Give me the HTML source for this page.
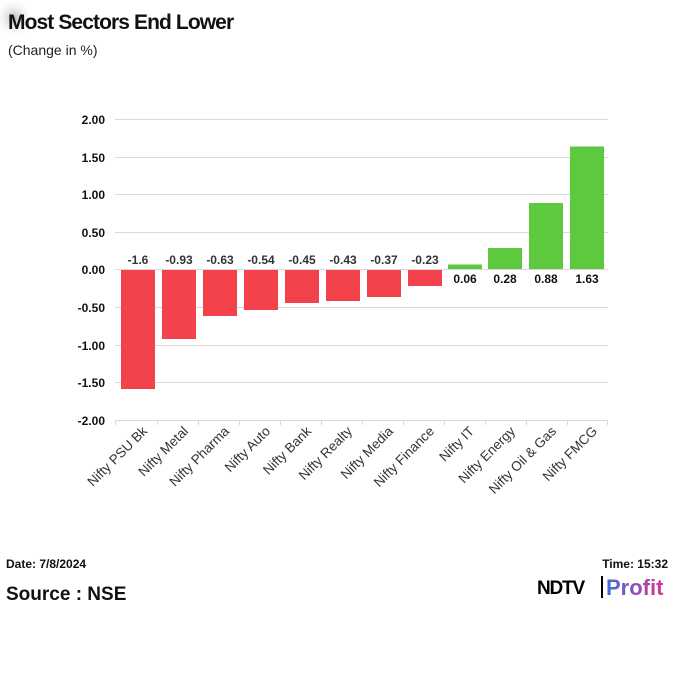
<!DOCTYPE html>
<html><head><meta charset="utf-8"><style>
body{margin:0;width:675px;height:675px;background:#fff;overflow:hidden;font-family:"Liberation Sans",Arial,sans-serif}
</style></head><body>
<svg width="675" height="675" viewBox="0 0 675 675" xmlns="http://www.w3.org/2000/svg">
<defs><radialGradient id="sh"><stop offset="0" stop-color="#bbb"/><stop offset="1" stop-color="#fff" stop-opacity="0"/></radialGradient></defs>
<circle cx="14" cy="18" r="20" fill="url(#sh)"/>
<text x="8" y="29" font-size="21" font-weight="bold" fill="#111" letter-spacing="-0.9">Most Sectors End Lower</text>
<text x="8" y="55" font-size="14" fill="#222">(Change in %)</text>
<g stroke="#d9d9d9" stroke-width="1">
<line x1="115" y1="119.5" x2="608" y2="119.5"/>
<line x1="115" y1="157.5" x2="608" y2="157.5"/>
<line x1="115" y1="194.5" x2="608" y2="194.5"/>
<line x1="115" y1="232.5" x2="608" y2="232.5"/>
<line x1="115" y1="307.5" x2="608" y2="307.5"/>
<line x1="115" y1="345.5" x2="608" y2="345.5"/>
<line x1="115" y1="382.5" x2="608" y2="382.5"/>
<line x1="115" y1="420.5" x2="608" y2="420.5"/>
</g>
<g font-size="12" font-weight="bold" fill="#111" text-anchor="end">
<text x="105" y="124">2.00</text><text x="105" y="162">1.50</text><text x="105" y="199">1.00</text><text x="105" y="237">0.50</text><text x="105" y="274">0.00</text><text x="105" y="312">-0.50</text><text x="105" y="350">-1.00</text><text x="105" y="387">-1.50</text><text x="105" y="425">-2.00</text>
</g>
<g fill="#f4424c">
<rect x="121" y="269" width="34" height="120"/>
<rect x="162" y="269" width="34" height="70"/>
<rect x="203" y="269" width="34" height="47"/>
<rect x="244" y="269" width="34" height="41"/>
<rect x="285" y="269" width="34" height="34"/>
<rect x="326" y="269" width="34" height="32"/>
<rect x="367" y="269" width="34" height="28"/>
<rect x="408" y="269" width="34" height="17"/>
</g>
<g fill="#5dc93f">
<rect x="448" y="264.5" width="34" height="4.5"/>
<rect x="488" y="248" width="34" height="21"/>
<rect x="529" y="203" width="34" height="66"/>
<rect x="570" y="146.5" width="34" height="122.5"/>
</g>
<line x1="115" y1="269.5" x2="608" y2="269.5" stroke="#d9d9d9"/>
<g stroke="#d9d9d9"><line x1="115.5" y1="420" x2="115.5" y2="425"/><line x1="157.5" y1="420" x2="157.5" y2="425"/><line x1="198.5" y1="420" x2="198.5" y2="425"/><line x1="239.5" y1="420" x2="239.5" y2="425"/><line x1="280.5" y1="420" x2="280.5" y2="425"/><line x1="321.5" y1="420" x2="321.5" y2="425"/><line x1="362.5" y1="420" x2="362.5" y2="425"/><line x1="403.5" y1="420" x2="403.5" y2="425"/><line x1="444.5" y1="420" x2="444.5" y2="425"/><line x1="485.5" y1="420" x2="485.5" y2="425"/><line x1="526.5" y1="420" x2="526.5" y2="425"/><line x1="567.5" y1="420" x2="567.5" y2="425"/><line x1="607.5" y1="420" x2="607.5" y2="425"/></g>
<g font-size="12" font-weight="bold" fill="#333" text-anchor="middle">
<text x="138" y="264">-1.6</text><text x="179" y="264">-0.93</text><text x="220" y="264">-0.63</text><text x="261" y="264">-0.54</text><text x="302" y="264">-0.45</text><text x="343" y="264">-0.43</text><text x="384" y="264">-0.37</text><text x="425" y="264">-0.23</text>
<text x="465" y="283" fill="#111">0.06</text><text x="505" y="283" fill="#111">0.28</text><text x="546" y="283" fill="#111">0.88</text><text x="587" y="283" fill="#111">1.63</text>
</g>
<g font-size="13.5" fill="#333" text-anchor="end">
<text transform="translate(148,432) rotate(-45)">Nifty PSU Bk</text>
<text transform="translate(189,432) rotate(-45)">Nifty Metal</text>
<text transform="translate(230,432) rotate(-45)">Nifty Pharma</text>
<text transform="translate(271,432) rotate(-45)">Nifty Auto</text>
<text transform="translate(312,432) rotate(-45)">Nifty Bank</text>
<text transform="translate(353,432) rotate(-45)">Nifty Realty</text>
<text transform="translate(394,432) rotate(-45)">Nifty Media</text>
<text transform="translate(435,432) rotate(-45)">Nifty Finance</text>
<text transform="translate(475,432) rotate(-45)">Nifty IT</text>
<text transform="translate(516,432) rotate(-45)">Nifty Energy</text>
<text transform="translate(557,432) rotate(-45)">Nifty Oil &amp; Gas</text>
<text transform="translate(598,432) rotate(-45)">Nifty FMCG</text>
</g>
<text x="6" y="568" font-size="12" font-weight="bold" fill="#111">Date: 7/8/2024</text>
<text x="668" y="568" font-size="12" font-weight="bold" fill="#111" text-anchor="end">Time: 15:32</text>
<text x="6" y="600" font-size="19" font-weight="bold" fill="#111">Source : NSE</text>
<text x="537" y="594" font-size="19" font-weight="900" fill="#000" letter-spacing="-1.2">NDTV</text>
<rect x="601" y="576" width="2" height="22" fill="#000"/>
<defs><linearGradient id="pg" x1="0" x2="1"><stop offset="0" stop-color="#3d6fe0"/><stop offset="1" stop-color="#e0348f"/></linearGradient></defs>
<text x="606" y="595" font-size="22" font-weight="bold" fill="url(#pg)">Profit</text>
</svg>
</body></html>
